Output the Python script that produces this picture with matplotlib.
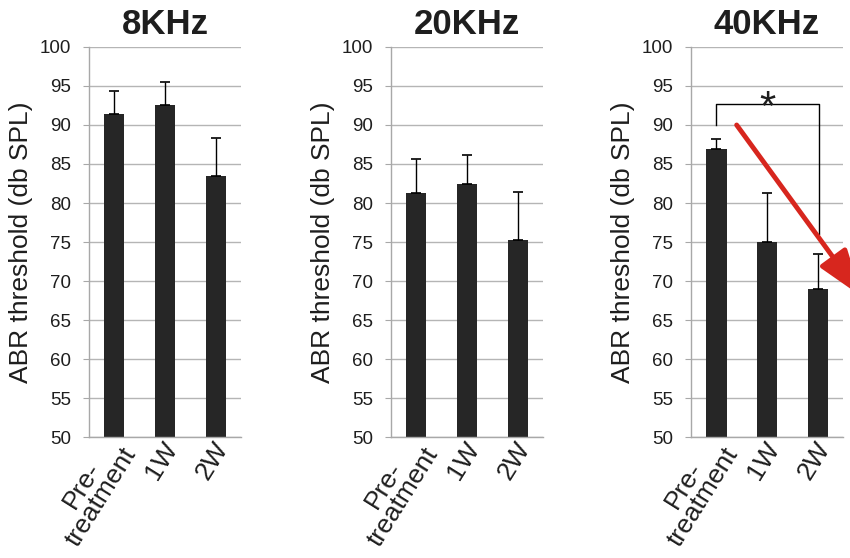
import matplotlib
matplotlib.use("Agg")
from matplotlib import pyplot as plt
from matplotlib import transforms

plt.rcParams['font.family'] = ['Liberation Sans', 'DejaVu Sans']

# data
freqs = ["8KHz", "20KHz", "40KHz"]
groups = ["Pre-\ntreatment", "1W", "2W"]
means_8k = [91.4, 92.5, 83.5]
err_8k = [3.0, 2.95, 4.8]
means_20k = [81.3, 82.4, 75.3]
err_20k = [4.4, 3.7, 6.05]
means_40k = [86.9, 75.0, 69.0]
err_40k = [1.3, 6.25, 4.5]

means = [means_8k, means_20k, means_40k]
errs = [err_8k, err_20k, err_40k]

fig = plt.figure(figsize=(8.5, 5.58), dpi=100)
lefts = [0.1047, 0.46, 0.813]

for k in range(3):
    ax = fig.add_axes([lefts[k], 0.2168, 0.1788, 0.699])
    x = list(range(len(groups)))
    ax.bar(x, means[k], width=0.4, color="#262626", zorder=2)
    ax.errorbar(x, means[k], yerr=[[0] * 3, errs[k]], fmt="none",
                ecolor="black", elinewidth=1.0, capsize=3.5, capthick=1.2, zorder=3)

    ax.set_xlim(-0.5, 2.5)
    ax.set_ylim(50, 100)
    ax.set_yticks(range(50, 101, 5))
    ax.yaxis.grid(True, color="#b5b5b5", linewidth=1.0, zorder=0)
    ax.set_axisbelow(True)
    for s in ["top", "right"]:
        ax.spines[s].set_visible(False)
    for s in ["left", "bottom"]:
        ax.spines[s].set_color("#a8a8a8")
        ax.spines[s].set_linewidth(1.0)
    ax.tick_params(axis="y", length=4, color="#a8a8a8", pad=9,
                   labelsize=13.5, labelcolor="#1e1e1e")
    ax.tick_params(axis="x", length=0, pad=5)

    ax.set_xticks(x)
    ax.set_xticklabels(groups, rotation=58, ha="right", va="center",
                       rotation_mode="anchor", fontsize=19, color="#1e1e1e",
                       multialignment="center", linespacing=0.95)
    # nudge the rotated labels a little to the right
    shift = transforms.ScaledTranslation(0.07, 0, fig.dpi_scale_trans)
    for lab in ax.get_xticklabels():
        lab.set_transform(lab.get_transform() + shift)

    ax.set_ylabel("ABR threshold (db SPL)", fontsize=19, color="#1e1e1e", labelpad=5)
    ax.set_title(freqs[k], fontsize=25, fontweight="bold", color="#1e1e1e", pad=9)

    if k == 2:
        # significance bracket
        ax.plot([0, 0, 2.03, 2.03], [90, 92.65, 92.65, 76], color="black",
                linewidth=1.0, zorder=4)
        ax.text(1.0, 90.6, "*", fontsize=30, ha="center", va="baseline",
                color="#1e1e1e", zorder=4)
        # red arrow
        ax.annotate("", xy=(2.87, 68.0), xytext=(0.40, 90.0),
                    annotation_clip=False,
                    arrowprops=dict(arrowstyle="-|>,head_length=1.45,head_width=0.5",
                                    mutation_scale=20, color="#d7261e",
                                    linewidth=3.5, shrinkA=0, shrinkB=0),
                    zorder=5)

fig.savefig("out.png", dpi=100)
